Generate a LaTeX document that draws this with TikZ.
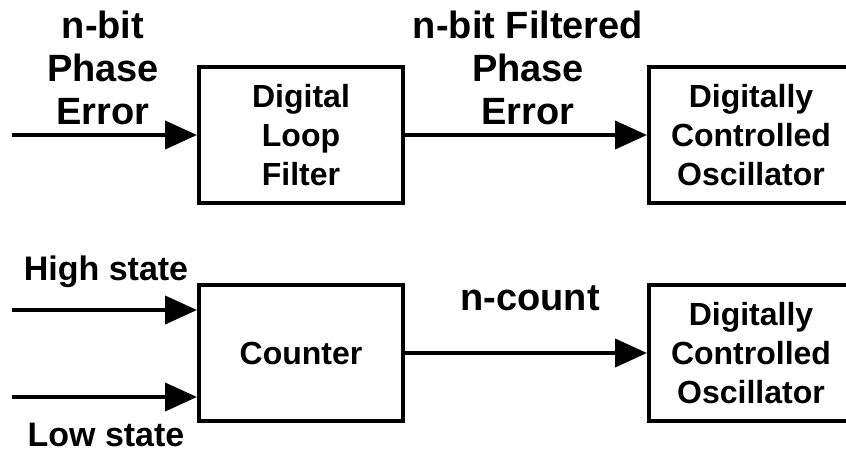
\documentclass[tikz,border=0pt]{standalone}
\usepackage{fontspec}
\setmainfont{Liberation Sans}
\usepackage{tikz}
\usetikzlibrary{arrows.meta,positioning}

\begin{document}
\begin{tikzpicture}[->,>={Triangle[length=16pt,width=14pt]},line width=2pt,
                    x=1pt,y=1pt,node distance=121pt]
  \tikzstyle{block}=[draw, minimum width=102pt, minimum height=68pt,
                     align=center, inner sep=0pt,
                     font=\bfseries\fontsize{16}{19.5}\selectfont]
  \tikzstyle{lab}=[align=center, inner sep=0pt,
                   font=\bfseries\fontsize{19}{21.5}\selectfont]
  \tikzstyle{slab}=[inner sep=0pt, anchor=base,
                    font=\bfseries\fontsize{17}{20}\selectfont]

  \useasboundingbox (0,0) rectangle (423,226);
  \clip (0,0) rectangle (423,226);

  \node[block] (DLF) at (150.5,158.5)       {Digital\\Loop\\Filter};
  \node[block] (DCO) [right=of DLF]         {Digitally\\Controlled\\Oscillator};
  \node[block] (CNT) [below=39pt of DLF]    {Counter};
  \node[block] (DCOb) [right=of CNT]        {Digitally\\Controlled\\Oscillator};

  \coordinate (IN)  at (6,158.5);
  \coordinate (HI)  at (6,71);
  \coordinate (LO)  at (6,27.5);

  \node[lab] (PE)  at (51.5,192)          {n-bit\\Phase\\Error};
  \node[lab] (FPE) at (264,192)           {n-bit Filtered\\Phase\\Error};
  \node[slab] (HS) at (53,86)             {High state};
  \node[slab] (LS) at (53,3)              {Low state};
  \node[lab,anchor=base] (NC) at (265,71) {n-count};

  \draw (IN) -- (DLF);
  \draw (DLF) -- (DCO);
  \draw (HI) -- (HI -| CNT.west);
  \draw (LO) -- (LO -| CNT.west);
  \draw (CNT) -- (DCOb);
\end{tikzpicture}
\end{document}
